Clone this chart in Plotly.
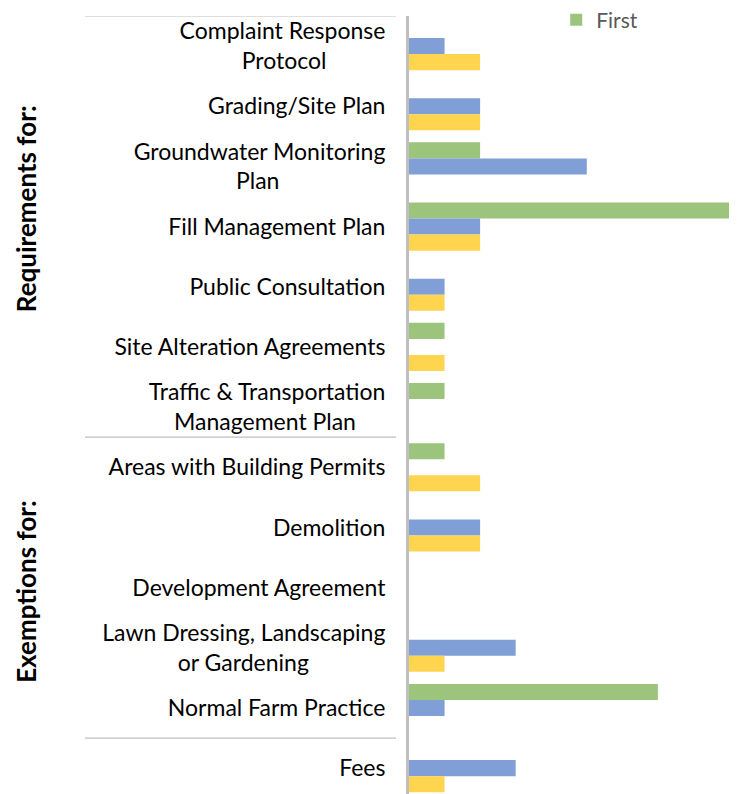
import plotly.graph_objects as go

NB = "\u00a0"
categories = [
    "Complaint Response<br>Protocol" + NB * 10,
    "Grading/Site Plan",
    "Groundwater Monitoring<br>Plan" + NB * 18,
    "Fill Management Plan",
    "Public Consultation",
    "Site Alteration Agreements",
    "Traffic & Transportation<br>Management Plan" + NB * 5,
    "Areas with Building Permits",
    "Demolition",
    "Development Agreement",
    "Lawn Dressing, Landscaping<br>or Gardening" + NB * 13,
    "Normal Farm Practice",
    "Fees",
]
first = [0, 0, 2, 9, 0, 1, 1, 1, 0, 0, 0, 7, 0]
second = [1, 2, 5, 2, 1, 0, 0, 0, 2, 0, 3, 1, 3]
third = [2, 2, 0, 2, 1, 1, 0, 2, 2, 0, 1, 0, 1]
series_names = ["First", "Second", "Third"]
group_labels = ["Requirements for:", "Exemptions for:"]

colors = ["#9DC47C", "#7F9FD6", "#FFD54F"]
FONT = "Lato"

# page body has an 8px margin, so the figure is 8px smaller than the window
W, H = 729, 786
L, R, T = 401, 8, 8
PW = W - L - R

fig = go.Figure()
for name, vals, col, show in zip(series_names, [first, second, third], colors, [True, False, False]):
    fig.add_trace(go.Bar(
        y=categories, x=vals, name=name, orientation="h",
        marker=dict(color=col, line=dict(width=0)),
        showlegend=show,
    ))

fig.update_layout(
    width=W, height=H,
    margin=dict(l=L, r=R, t=T, b=0, autoexpand=False),
    paper_bgcolor="white", plot_bgcolor="white",
    barmode="group", bargap=0.2, bargroupgap=0,
    font=dict(family=FONT, size=23, color="#000000"),
    legend=dict(
        orientation="h", x=0.4475 + 4 / PW, xanchor="left",
        yref="container", y=1 - 12 / H, yanchor="middle",
        font=dict(family=FONT, size=21, color="#595959"),
        bgcolor="rgba(0,0,0,0)",
    ),
    xaxis=dict(range=[0, 9], visible=False, showgrid=False, zeroline=False),
    yaxis=dict(
        type="category", range=[12.43, -0.5], automargin=False,
        showline=True, linecolor="#BFBFBF", linewidth=3,
        showgrid=False, zeroline=False, ticks="",
        ticklabelstandoff=16,
        tickfont=dict(family=FONT, size=23, color="#000000"),
    ),
)

# separator lines
for yv in [-0.5, 6.5, 11.5]:
    fig.add_shape(type="line", xref="paper", yref="y",
                  x0=-324 / PW, x1=-13 / PW, y0=yv, y1=yv,
                  line=dict(color="#BFBFBF", width=1.2))

for txt, yv in zip(group_labels, [2.71, 9.07]):
    fig.add_annotation(text="<b>" + txt + "</b>", xref="paper", yref="y",
                       x=-383 / PW, xanchor="center", y=yv, yanchor="middle",
                       textangle=-90, showarrow=False,
                       font=dict(family=FONT, size=26, color="#000000"))

fig.write_html("out.html")
